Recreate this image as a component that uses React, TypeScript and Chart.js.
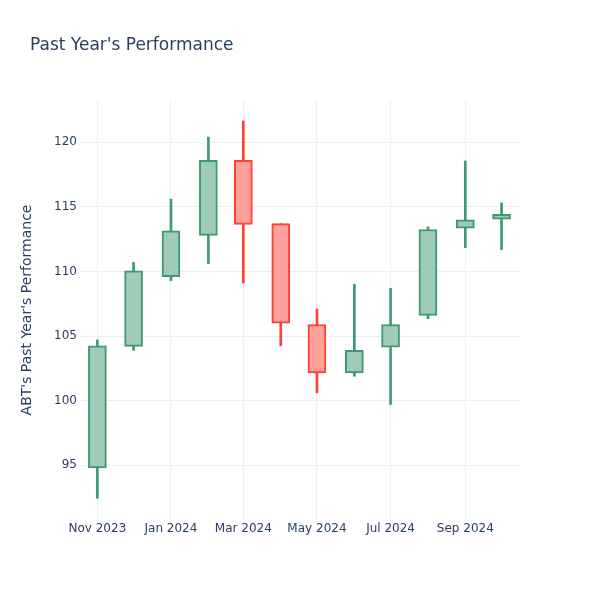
import React, { useEffect, useRef } from "react";
import { Chart, registerables } from "chart.js";
Chart.register(...registerables);

const months = [
  "2023-11-01", "2023-12-01", "2024-01-01", "2024-02-01", "2024-03-01", "2024-04-01",
  "2024-05-01", "2024-06-01", "2024-07-01", "2024-08-01", "2024-09-01", "2024-10-01",
];
const opens = [94.8, 104.2, 109.6, 112.8, 118.6, 113.7, 105.9, 102.15, 104.15, 106.6, 113.35, 114.05];
const highs = [104.7, 110.7, 115.6, 120.4, 121.65, 113.7, 107.1, 109.0, 108.7, 113.45, 118.55, 115.3];
const lows = [92.45, 103.9, 109.3, 110.6, 109.1, 104.25, 100.6, 101.9, 99.7, 106.35, 111.85, 111.7];
const closes = [104.25, 110.05, 113.15, 118.6, 113.65, 106.0, 102.15, 103.9, 105.9, 113.25, 114.0, 114.42];

const xTickDates = ["2023-11-01", "2024-01-01", "2024-03-01", "2024-05-01", "2024-07-01", "2024-09-01"];
const yTicks = [95, 100, 105, 110, 115, 120];
const monthNames = ["Jan", "Feb", "Mar", "Apr", "May", "Jun", "Jul", "Aug", "Sep", "Oct", "Nov", "Dec"];

const chartTitle = "Past Year's Performance";
const yTitle = "ABT's Past Year's Performance";

const dayOf = (s: string) => {
  const [y, m, d] = s.split("-").map(Number);
  return Date.UTC(y, m - 1, d) / 86400000;
};
const fmtDay = (v: number) => {
  const dt = new Date(Math.round(v) * 86400000);
  return `${monthNames[dt.getUTCMonth()]} ${dt.getUTCFullYear()}`;
};

const UP = "#3D9970";
const DOWN = "#FF4136";
const UP_FILL = "rgb(158,204,184)";
const DOWN_FILL = "rgb(255,160,155)";
const TEXT = "#2a3f5f";
const GRID = "#EBF0F8";
const FONT = "'DejaVu Sans', sans-serif";

export default function App() {
  const ref = useRef<HTMLCanvasElement | null>(null);
  useEffect(() => {
    if (!ref.current) return;
    const xs = months.map(dayOf);
    const isUp = months.map((_, i) => closes[i] >= opens[i]);
    const titlePlugin = {
      id: "plotlyTitle",
      afterDraw(chart: any) {
        const ctx = chart.ctx;
        ctx.save();
        ctx.font = `17px ${FONT}`;
        ctx.fillStyle = TEXT;
        ctx.textAlign = "left";
        ctx.textBaseline = "alphabetic";
        ctx.fillText(chartTitle, 30, 50);
        ctx.restore();
      },
    };
    const chart = new Chart(ref.current, {
      type: "bar",
      data: {
        datasets: [
          {
            label: "body",
            data: xs.map((x, i) => ({ x, y: [opens[i], closes[i]] })) as any,
            backgroundColor: isUp.map((u) => (u ? UP_FILL : DOWN_FILL)),
            borderColor: isUp.map((u) => (u ? UP : DOWN)),
            borderWidth: 2,
            borderSkipped: false,
            barThickness: 18,
            grouped: false,
          } as any,
          {
            label: "wick",
            data: xs.map((x, i) => ({ x, y: [lows[i], highs[i]] })) as any,
            backgroundColor: isUp.map((u) => (u ? UP : DOWN)),
            borderWidth: 0,
            barThickness: 2,
            grouped: false,
          } as any,
        ],
      },
      options: {
        animation: false,
        responsive: false,
        layout: { padding: { top: 100, right: 80, left: 14, bottom: 0 } },
        plugins: { legend: { display: false }, tooltip: { enabled: false }, title: { display: false } },
        scales: {
          x: {
            type: "linear",
            offset: false,
            min: dayOf(months[0]) - 14.4,
            max: dayOf(months[months.length - 1]) + 15.3,
            grid: { color: GRID, lineWidth: 1, drawTicks: false, offset: false },
            border: { display: false },
            ticks: {
              color: TEXT,
              font: { family: FONT, size: 12 },
              padding: 2,
              maxRotation: 0,
              autoSkip: false,
              callback: (v: any) => fmtDay(Number(v)),
            },
            afterBuildTicks: (scale: any) => {
              scale.ticks = xTickDates.map((d) => ({ value: dayOf(d) }));
            },
            afterFit: (scale: any) => {
              scale.height = 80;
            },
          },
          y: {
            type: "linear",
            min: 90.77,
            max: 123.27,
            grid: { color: GRID, lineWidth: 1, drawTicks: false },
            border: { display: false },
            ticks: {
              color: TEXT,
              font: { family: FONT, size: 12 },
              padding: 3,
            },
            afterBuildTicks: (scale: any) => {
              scale.ticks = yTicks.map((v) => ({ value: v }));
            },
            afterFit: (scale: any) => {
              scale.width = 66;
            },
            title: {
              display: true,
              text: yTitle,
              color: TEXT,
              font: { family: FONT, size: 14 },
              padding: 5,
            },
          },
        },
      } as any,
      plugins: [titlePlugin],
    });
    return () => chart.destroy();
  }, []);
  return (
    <div style={{ position: "absolute", left: 0, top: 0, width: 600, height: 600, background: "#fff" }}>
      <canvas ref={ref} width={600} height={600} style={{ display: "block" }} />
    </div>
  );
}
